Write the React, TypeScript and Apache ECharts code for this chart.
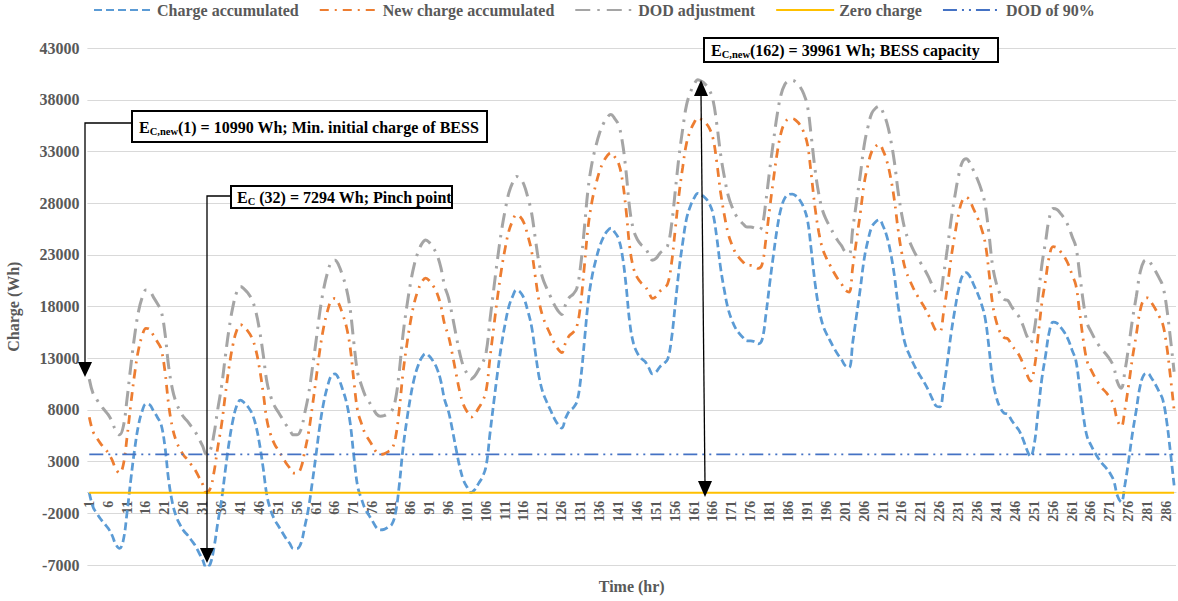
import React, { useEffect, useRef } from "react";
import * as echarts from "echarts";

// ---- Data ----
const hours: string[] = Array.from({ length: 288 }, (_, i) => String(i + 1));

const chargeAccumulated = [
  0, -1400, -2000, -2550, -3000, -3450, -4100, -5000, -5400, -4600,
  -1900, 1300, 4200, 6500, 7900, 8600, 8500, 7900, 7300, 6600,
  4500, 1200, -1000, -2300, -3100, -3700, -4100, -4600, -5100, -5800,
  -6500, -7294, -6900, -5300, -2900, -700, 2200, 4900, 7000, 8400,
  8950, 8700, 8300, 7700, 6600, 4800, 2400, -300, -1700, -2600,
  -3200, -3800, -4400, -4900, -5400, -5400, -4900, -3300, -1500, 1000,
  3700, 6500, 8700, 10250, 11300, 11500, 11000, 10000, 8800, 6800,
  3500, 600, -600, -1600, -2200, -2800, -3400, -3600, -3550, -3350,
  -3100, -2000, 700, 4300, 7000, 9300, 11100, 12300, 13100, 13450,
  13200, 12700, 12000, 10800, 9000, 7900, 6200, 4300, 2500, 1200,
  500, 0, 300, 900, 1500, 2600, 5700, 8700, 11600, 14200,
  16300, 18000, 19000, 19600, 19400, 18800, 17600, 16100, 13600, 11200,
  9700, 8800, 8000, 7200, 6600, 6250, 7200, 7900, 8200, 8800,
  11000, 14700, 18500, 20900, 22500, 23800, 24700, 25300, 25600, 25200,
  24600, 23000, 20100, 16400, 14400, 13500, 13000, 12700, 12100, 11500,
  11700, 12200, 12500, 12900, 14800, 18100, 21500, 24200, 26500, 27700,
  28500, 28971, 28800, 28500, 28000, 27000, 24700, 21800, 19600, 17800,
  16700, 15900, 15400, 15000, 14700, 14700, 14600, 14400, 14800, 17200,
  20200, 23000, 25600, 27500, 28500, 28850, 28900, 28700, 28300, 27600,
  26400, 23500, 20300, 17900, 16300, 15400, 14700, 14000, 13400, 12900,
  12300, 12100, 14600, 17200, 19800, 22600, 24400, 25700, 26200, 26400,
  25800, 24800, 23200, 21000, 18100, 15800, 14200, 13300, 12500, 11800,
  11200, 10600, 9900, 9100, 8400, 8300, 10100, 12600, 15400, 17700,
  19700, 21000, 21300, 20900, 20100, 19300, 18300, 16900, 14100, 10900,
  9200, 8200, 7700, 7600, 7000, 6500, 6000, 5200, 4200, 3500,
  4700, 7800, 11000, 13300, 15600, 16500, 16400, 16000, 15500, 14800,
  13800, 12800, 10200, 7400, 5400, 4600, 3900, 3300, 2800, 2400,
  1900, 1200, -300, -900, 800, 3200, 5800, 8000, 10300, 11400,
  11550, 11100, 10500, 9800, 9000, 7000, 4000, 700,
];

const newChargeAccumulated = [
  7294, 5900, 5300, 4750, 4300, 3850, 3200, 2300, 1900, 2700,
  5400, 8600, 11500, 13800, 15200, 15900, 15800, 15200, 14600, 13900,
  11800, 8500, 6300, 5000, 4200, 3600, 3200, 2700, 2200, 1500,
  800, 0, 400, 2000, 4400, 6600, 9500, 12200, 14300, 15700,
  16250, 16000, 15600, 15000, 13900, 12100, 9700, 7000, 5600, 4700,
  4100, 3500, 2900, 2400, 1900, 1900, 2400, 4000, 5800, 8300,
  11000, 13800, 16000, 17550, 18600, 18800, 18300, 17300, 16100, 14100,
  10800, 7900, 6700, 5700, 5100, 4500, 3900, 3700, 3750, 3950,
  4200, 5300, 8000, 11600, 14300, 16600, 18400, 19600, 20400, 20750,
  20500, 20000, 19300, 18100, 16300, 15200, 13500, 11600, 9800, 8500,
  7800, 7300, 7600, 8200, 8800, 9900, 13000, 16000, 18900, 21500,
  23600, 25300, 26300, 26900, 26700, 26100, 24900, 23400, 20900, 18500,
  17000, 16100, 15300, 14500, 13900, 13550, 14500, 15200, 15500, 16100,
  18300, 22000, 25800, 28200, 29800, 31100, 32000, 32600, 32900, 32500,
  31900, 30300, 27400, 23700, 21700, 20800, 20300, 20000, 19400, 18800,
  19000, 19500, 19800, 20200, 22100, 25400, 28800, 31500, 33800, 35000,
  35800, 36265, 36100, 35800, 35300, 34300, 32000, 29100, 26900, 25100,
  24000, 23200, 22700, 22300, 22000, 22000, 21900, 21700, 22100, 24500,
  27500, 30300, 32900, 34800, 35800, 36150, 36200, 36000, 35600, 34900,
  33700, 30800, 27600, 25200, 23600, 22700, 22000, 21300, 20700, 20200,
  19600, 19400, 21900, 24500, 27100, 29900, 31700, 33000, 33500, 33700,
  33100, 32100, 30500, 28300, 25400, 23100, 21500, 20600, 19800, 19100,
  18500, 17900, 17200, 16400, 15700, 15600, 17400, 19900, 22700, 25000,
  27000, 28300, 28600, 28200, 27400, 26600, 25600, 24200, 21400, 18200,
  16500, 15500, 15000, 14900, 14300, 13800, 13300, 12500, 11500, 10800,
  12000, 15100, 18300, 20600, 22900, 23800, 23700, 23300, 22800, 22100,
  21100, 20100, 17500, 14700, 12700, 11900, 11200, 10600, 10100, 9700,
  9200, 8500, 7000, 6400, 8100, 10500, 13100, 15300, 17600, 18700,
  18850, 18400, 17800, 17100, 16300, 14300, 11300, 8000,
];

const dodAdjustment = [
  10990, 9600, 9000, 8450, 8000, 7550, 6900, 6000, 5600, 6400,
  9100, 12300, 15200, 17500, 18900, 19600, 19500, 18900, 18300, 17600,
  15500, 12200, 10000, 8700, 7900, 7300, 6900, 6400, 5900, 5200,
  4500, 3696, 4100, 5700, 8100, 10300, 13200, 15900, 18000, 19400,
  19950, 19700, 19300, 18700, 17600, 15800, 13400, 10700, 9300, 8400,
  7800, 7200, 6600, 6100, 5600, 5600, 6100, 7700, 9500, 12000,
  14700, 17500, 19700, 21250, 22300, 22500, 22000, 21000, 19800, 17800,
  14500, 11600, 10400, 9400, 8800, 8200, 7600, 7400, 7450, 7650,
  7900, 9000, 11700, 15300, 18000, 20300, 22100, 23300, 24100, 24450,
  24200, 23700, 23000, 21800, 20000, 18900, 17200, 15300, 13500, 12200,
  11500, 11000, 11300, 11900, 12500, 13600, 16700, 19700, 22600, 25200,
  27300, 29000, 30000, 30600, 30400, 29800, 28600, 27100, 24600, 22200,
  20700, 19800, 19000, 18200, 17600, 17250, 18200, 18900, 19200, 19800,
  22000, 25700, 29500, 31900, 33500, 34800, 35700, 36300, 36600, 36200,
  35600, 34000, 31100, 27400, 25400, 24500, 24000, 23700, 23100, 22500,
  22700, 23200, 23500, 23900, 25800, 29100, 32500, 35200, 37500, 38700,
  39500, 39961, 39800, 39500, 39000, 38000, 35700, 32800, 30600, 28800,
  27700, 26900, 26400, 26000, 25700, 25700, 25600, 25400, 25800, 28200,
  31200, 34000, 36600, 38500, 39500, 39850, 39900, 39700, 39300, 38600,
  37400, 34500, 31300, 28900, 27300, 26400, 25700, 25000, 24400, 23900,
  23300, 23100, 25600, 28200, 30800, 33600, 35400, 36700, 37200, 37400,
  36800, 35800, 34200, 32000, 29100, 26800, 25200, 24300, 23500, 22800,
  22200, 21600, 20900, 20100, 19400, 19300, 21100, 23600, 26400, 28700,
  30700, 32000, 32300, 31900, 31100, 30300, 29300, 27900, 25100, 21900,
  20200, 19200, 18700, 18600, 18000, 17500, 17000, 16200, 15200, 14500,
  15700, 18800, 22000, 24300, 26600, 27500, 27400, 27000, 26500, 25800,
  24800, 23800, 21200, 18400, 16400, 15600, 14900, 14300, 13800, 13400,
  12900, 12200, 10700, 10100, 11800, 14200, 16800, 19000, 21300, 22400,
  22550, 22100, 21500, 20800, 20000, 18000, 15000, 11700,
];

const ZERO_CHARGE = 0;
const DOD_OF_90 = 3696;

const Y_MIN = -7000;
const Y_MAX = 43000;
const Y_STEP = 5000;

const FONT = "Liberation Serif";
const GREY_TEXT = "#595959";

const zeroSeries = hours.map(() => ZERO_CHARGE);
const dodSeries = hours.map(() => DOD_OF_90);

const richStyle = {
  b: { fontFamily: FONT, fontWeight: "bold", fontSize: 16, fill: "#000", lineHeight: 20, verticalAlign: "middle" },
  s: { fontFamily: FONT, fontWeight: "bold", fontSize: 10.5, fill: "#000", lineHeight: 11, verticalAlign: "bottom" },
};

// grid geometry (pixels)
const GRID_TOP = 48.3;
const GRID_BOTTOM = 36;
const CHART_H = 601;

export default function App() {
  const ref = useRef<HTMLDivElement>(null);

  useEffect(() => {
    if (!ref.current) return;
    const chart = echarts.init(ref.current, null, { renderer: "svg" });

    // distance from the grid bottom up to the value 0 (x axis sits on zero, like the reference)
    const gridH = CHART_H - GRID_TOP - GRID_BOTTOM;
    const zeroOffset = -gridH * (ZERO_CHARGE - Y_MIN) / (Y_MAX - Y_MIN);

    const option: any = {
      animation: false,
      backgroundColor: "#ffffff",
      textStyle: { fontFamily: FONT },
      grid: { left: 87.4, right: 2, top: GRID_TOP, bottom: GRID_BOTTOM, containLabel: false, outerBoundsMode: "none" },
      legend: {
        left: 93,
        top: 2,
        padding: 0,
        itemWidth: 58,
        itemHeight: 14,
        itemGap: 20,
        itemStyle: { opacity: 0 },
        textStyle: { fontFamily: FONT, fontWeight: "bold", fontSize: 16, color: GREY_TEXT },
        data: ["Charge accumulated", "New charge accumulated", "DOD adjustment", "Zero charge", "DOD of 90%"],
      },
      xAxis: {
        type: "category",
        data: hours,
        boundaryGap: true,
        offset: zeroOffset,
        axisLine: { onZero: false, lineStyle: { color: "#D9D9D9", width: 1 } },
        axisTick: { show: false },
        axisLabel: {
          interval: 4,
          rotate: 90,
          margin: 8,
          fontFamily: FONT,
          fontWeight: "bold",
          fontSize: 14,
          color: GREY_TEXT,
        },
        name: "Time (hr)",
        nameLocation: "middle",
        nameGap: 86,
        nameTextStyle: { fontFamily: FONT, fontWeight: "bold", fontSize: 16, color: GREY_TEXT },
        splitLine: { show: false },
      },
      yAxis: {
        type: "value",
        min: Y_MIN,
        max: Y_MAX,
        interval: Y_STEP,
        axisLine: { show: false },
        axisTick: { show: false },
        axisLabel: {
          margin: 8,
          fontFamily: FONT,
          fontWeight: "bold",
          fontSize: 16,
          color: GREY_TEXT,
          formatter: (v: number) => String(v),
        },
        splitLine: { lineStyle: { color: "#D9D9D9", width: 1 } },
        name: "Charge (Wh)",
        nameLocation: "middle",
        nameGap: 66,
        nameTextStyle: { fontFamily: FONT, fontWeight: "bold", fontSize: 16, color: GREY_TEXT },
      },
      series: [
        {
          name: "Charge accumulated",
          type: "line",
          data: chargeAccumulated,
          smooth: 0.4,
          symbol: "none",
          itemStyle: { color: "#5B9BD5" },
          lineStyle: { color: "#5B9BD5", width: 2.75, type: [8, 4] },
        },
        {
          name: "New charge accumulated",
          type: "line",
          data: newChargeAccumulated,
          smooth: 0.4,
          symbol: "none",
          itemStyle: { color: "#ED7D31" },
          lineStyle: { color: "#ED7D31", width: 2.75, type: [9, 6, 2, 6] },
        },
        {
          name: "DOD adjustment",
          type: "line",
          data: dodAdjustment,
          smooth: 0.4,
          symbol: "none",
          itemStyle: { color: "#A5A5A5" },
          lineStyle: { color: "#A5A5A5", width: 3, type: [15, 7, 2.5, 7] },
        },
        {
          name: "Zero charge",
          type: "line",
          data: zeroSeries,
          symbol: "none",
          itemStyle: { color: "#FFC000" },
          lineStyle: { color: "#FFC000", width: 2 },
        },
        {
          name: "DOD of 90%",
          type: "line",
          data: dodSeries,
          symbol: "none",
          itemStyle: { color: "#4472C4" },
          lineStyle: { color: "#4472C4", width: 1.75, type: [14, 5, 2, 5, 2, 5] },
        },
      ],
      graphic: [
        // Annotation 1
        { type: "polyline", shape: { points: [[132, 123], [85, 123], [85, 364]] }, style: { stroke: "#000", lineWidth: 1.3, fill: null }, z: 100 },
        { type: "polygon", shape: { points: [[78, 362], [92, 362], [85, 377]] }, style: { fill: "#000" }, z: 100 },
        { type: "rect", shape: { x: 132, y: 111, width: 355, height: 31 }, style: { fill: "#fff", stroke: "#000", lineWidth: 2 }, z: 100 },
        {
          type: "text", x: 139, y: 127, z: 101,
          style: { text: "{b|E}{s|C,new}{b|(1) = 10990 Wh; Min. initial charge of BESS}", rich: richStyle, verticalAlign: "middle", align: "left" },
        },
        // Annotation 2
        { type: "polyline", shape: { points: [[231, 196], [207, 196], [207, 549]] }, style: { stroke: "#000", lineWidth: 1.3, fill: null }, z: 100 },
        { type: "polygon", shape: { points: [[200, 548], [214, 548], [207, 563]] }, style: { fill: "#000" }, z: 100 },
        { type: "rect", shape: { x: 231, y: 186, width: 221, height: 22 }, style: { fill: "#fff", stroke: "#000", lineWidth: 2 }, z: 100 },
        {
          type: "text", x: 237, y: 197, z: 101,
          style: { text: "{b|E}{s|C}{b| (32) = 7294 Wh; Pinch point}", rich: richStyle, verticalAlign: "middle", align: "left" },
        },
        // Annotation 3
        { type: "line", shape: { x1: 701, y1: 94, x2: 705, y2: 483 }, style: { stroke: "#000", lineWidth: 1.3 }, z: 100 },
        { type: "polygon", shape: { points: [[701, 80], [694, 96], [708, 96]] }, style: { fill: "#000" }, z: 100 },
        { type: "polygon", shape: { points: [[705, 497], [698, 481], [712, 481]] }, style: { fill: "#000" }, z: 100 },
        { type: "rect", shape: { x: 704, y: 38, width: 294, height: 24 }, style: { fill: "#fff", stroke: "#000", lineWidth: 2 }, z: 100 },
        {
          type: "text", x: 711, y: 50, z: 101,
          style: { text: "{b|E}{s|C,new}{b|(162) = 39961 Wh; BESS capacity}", rich: richStyle, verticalAlign: "middle", align: "left" },
        },
      ],
    };

    chart.setOption(option);
    return () => chart.dispose();
  }, []);

  return (
    <div
      ref={ref}
      style={{ position: "absolute", left: 0, top: 0, width: 1178, height: 601, background: "#fff" }}
    />
  );
}
